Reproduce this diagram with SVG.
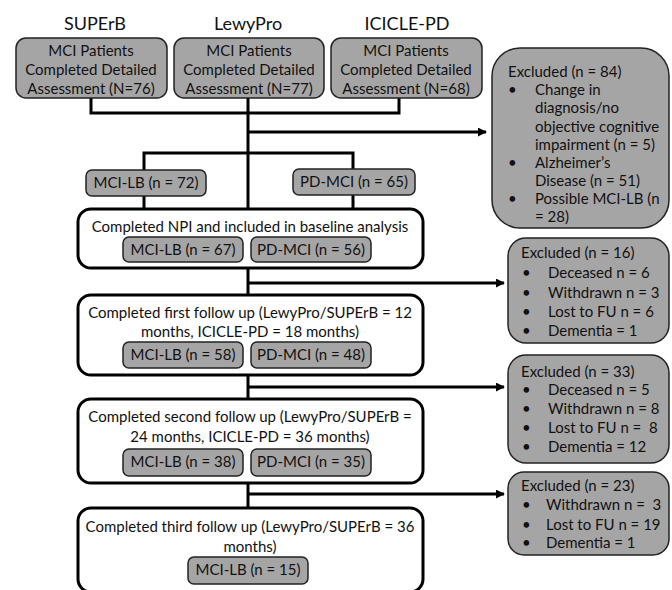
<svg xmlns="http://www.w3.org/2000/svg" width="672" height="590" viewBox="0 0 672 590">
<defs>
<style>
text{font-family:Lato,"Liberation Sans",sans-serif;font-size:15px;fill:#111}
.h{font-size:18px}
.c{text-anchor:middle}
.p{white-space:pre}
.g{fill:#a6a5a5;stroke:#222;stroke-width:1.5}
.w{fill:#fff;stroke:#000;stroke-width:3}
.ln{fill:none;stroke:#000;stroke-width:3}
</style>
<marker id="ah" viewBox="0 0 10 10" refX="9" refY="5" markerWidth="3" markerHeight="3" orient="auto" markerUnits="strokeWidth">
<path d="M0,0 L10,5 L0,10 z" fill="#000"/>
</marker>
</defs>
<rect width="672" height="590" fill="#fff"/>

<g id="labels">
<text class="h c" x="95" y="30">SUPErB</text>
<text class="h c" x="248" y="30">LewyPro</text>
<text class="h c" x="407" y="30">ICICLE-PD</text>
</g>

<g id="connectors">
<path class="ln" d="M91,98 V113 H399 V98"/>
<path class="ln" d="M248,98 V209"/>
<path class="ln" d="M248,132 H486" marker-end="url(#ah)"/>
<path class="ln" d="M144,170 V153 H353 V169"/>
<path class="ln" d="M144,196 V209"/>
<path class="ln" d="M353,195 V209"/>
<path class="ln" d="M248,268 V295"/>
<path class="ln" d="M248,283 H504" marker-end="url(#ah)"/>
<path class="ln" d="M248,375 V399"/>
<path class="ln" d="M248,387 H504" marker-end="url(#ah)"/>
<path class="ln" d="M248,483 V508"/>
<path class="ln" d="M248,494 H504" marker-end="url(#ah)"/>
</g>

<g id="superb">
<rect class="g" x="16" y="38" width="151" height="60" rx="10"/>
<text class="c" x="91" y="56">MCI Patients</text>
<text class="c" x="91" y="75">Completed Detailed</text>
<text class="c" x="91" y="94">Assessment (N=76)</text>
</g>
<g id="lewypro">
<rect class="g" x="174" y="38" width="150" height="60" rx="10"/>
<text class="c" x="249" y="56">MCI Patients</text>
<text class="c" x="249" y="75">Completed Detailed</text>
<text class="c" x="249" y="94">Assessment (N=77)</text>
</g>
<g id="icicle">
<rect class="g" x="331" y="38" width="151" height="60" rx="10"/>
<text class="c" x="406" y="56">MCI Patients</text>
<text class="c" x="406" y="75">Completed Detailed</text>
<text class="c" x="406" y="94">Assessment (N=68)</text>
</g>

<g id="excl1">
<rect class="g" x="492" y="48" width="177" height="180" rx="28"/>
<text x="508" y="77">Excluded (n = 84)</text>
<text x="508" y="95">•</text><text x="535" y="95">Change in</text>
<text x="535" y="113">diagnosis/no</text>
<text x="535" y="132">objective cognitive</text>
<text x="535" y="150">impairment (n = 5)</text>
<text x="508" y="168">•</text><text x="535" y="168">Alzheimer’s</text>
<text x="535" y="186">Disease (n = 51)</text>
<text x="508" y="204">•</text><text x="535" y="204">Possible MCI-LB (n</text>
<text x="535" y="222">= 28)</text>
</g>

<g id="mcilb72">
<rect class="g" x="86" y="170" width="120" height="26" rx="6"/>
<text class="c" x="146" y="188">MCI-LB (n = 72)</text>
</g>
<g id="pdmci65">
<rect class="g" x="293" y="169" width="122" height="26" rx="6"/>
<text class="c" x="354" y="187">PD-MCI (n = 65)</text>
</g>

<g id="baseline">
<rect class="w" x="78" y="209" width="345" height="59" rx="13"/>
<text class="c" x="250" y="232">Completed NPI and included in baseline analysis</text>
<rect class="g" x="123" y="237" width="120" height="25" rx="6"/>
<text class="c" x="183" y="255">MCI-LB (n = 67)</text>
<rect class="g" x="251" y="237" width="120" height="25" rx="6"/>
<text class="c" x="311" y="255">PD-MCI (n = 56)</text>
</g>

<g id="excl2">
<rect class="g" x="508" y="238" width="161" height="105" rx="18"/>
<text x="521" y="258">Excluded (n = 16)</text>
<text x="522" y="278">•</text><text x="548" y="278">Deceased n = 6</text>
<text x="522" y="298">•</text><text x="548" y="298">Withdrawn n = 3</text>
<text x="522" y="317">•</text><text x="548" y="317">Lost to FU n = 6</text>
<text x="522" y="336">•</text><text x="548" y="336">Dementia = 1</text>
</g>

<g id="fu1">
<rect class="w" x="78" y="295" width="345" height="80" rx="13"/>
<text class="c" x="250" y="318">Completed first follow up (LewyPro/SUPErB = 12</text>
<text class="c" x="250" y="337">months, ICICLE-PD = 18 months)</text>
<rect class="g" x="123" y="342" width="120" height="26" rx="6"/>
<text class="c" x="183" y="360">MCI-LB (n = 58)</text>
<rect class="g" x="251" y="342" width="120" height="26" rx="6"/>
<text class="c" x="311" y="360">PD-MCI (n = 48)</text>
</g>

<g id="excl3">
<rect class="g" x="508" y="355" width="161" height="108" rx="18"/>
<text x="521" y="377">Excluded (n = 33)</text>
<text x="522" y="395">•</text><text x="548" y="395">Deceased n = 5</text>
<text x="522" y="414">•</text><text x="548" y="414">Withdrawn n = 8</text>
<text x="522" y="433">•</text><text class="p" x="548" y="433">Lost to FU n =  8</text>
<text x="522" y="452">•</text><text x="548" y="452">Dementia = 12</text>
</g>

<g id="fu2">
<rect class="w" x="78" y="399" width="345" height="84" rx="13"/>
<text class="c" x="250" y="422">Completed second follow up (LewyPro/SUPErB =</text>
<text class="c" x="250" y="442">24 months, ICICLE-PD = 36 months)</text>
<rect class="g" x="123" y="449" width="120" height="27" rx="6"/>
<text class="c" x="183" y="467">MCI-LB (n = 38)</text>
<rect class="g" x="251" y="449" width="120" height="27" rx="6"/>
<text class="c" x="311" y="467">PD-MCI (n = 35)</text>
</g>

<g id="excl4">
<rect class="g" x="508" y="472" width="161" height="83" rx="16"/>
<text x="521" y="491">Excluded (n = 23)</text>
<text x="522" y="510">•</text><text class="p" x="546" y="510">Withdrawn n =  3</text>
<text x="522" y="530">•</text><text x="546" y="530">Lost to FU n = 19</text>
<text x="522" y="548">•</text><text x="546" y="548">Dementia = 1</text>
</g>

<g id="fu3">
<rect class="w" x="78" y="508" width="345" height="84" rx="13"/>
<text class="c" x="250" y="532">Completed third follow up (LewyPro/SUPErB = 36</text>
<text class="c" x="250" y="552">months)</text>
<rect class="g" x="188" y="557" width="120" height="27" rx="6"/>
<text class="c" x="248" y="575">MCI-LB (n = 15)</text>
</g>
</svg>
